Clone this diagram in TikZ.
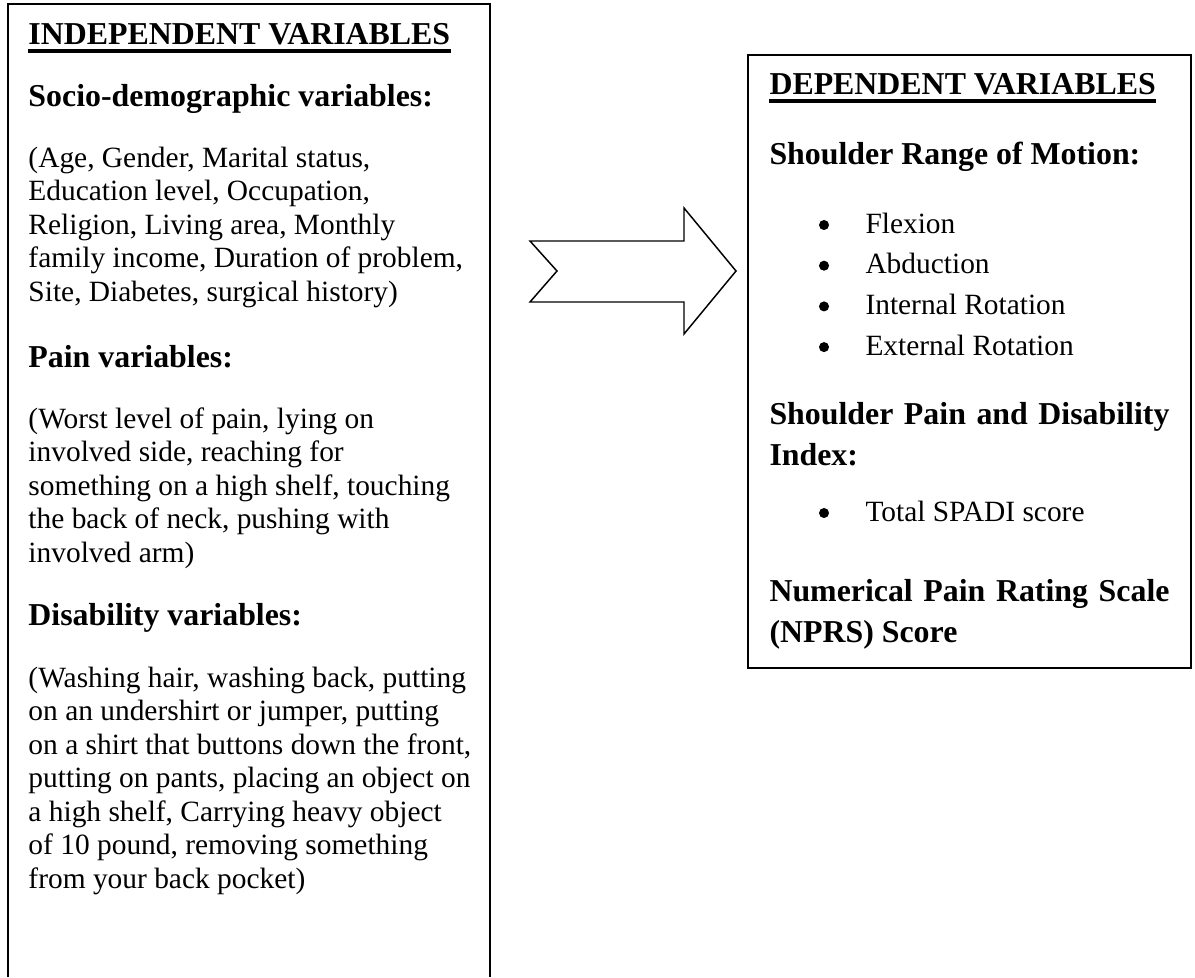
\documentclass[tikz,border=0pt]{standalone}
\usepackage{fontspec}
\setmainfont{Liberation Serif}
\usetikzlibrary{calc}

\tikzset{
  frame/.style={line width=0.85pt},
  ttl/.style={anchor=base west,inner sep=0pt,font=\fontsize{13}{15}\selectfont\bfseries},
  hd/.style={anchor=base west,inner sep=0pt,font=\fontsize{13}{15}\selectfont\bfseries},
  txt/.style={anchor=base west,inner sep=0pt,font=\fontsize{12}{13.7}\selectfont},
  dot/.style={circle,fill,inner sep=0pt,minimum size=4.1pt},
}

\begin{document}
\begin{tikzpicture}[x=0.408pt,y=-0.408pt]
  \useasboundingbox (0,0) rectangle (1195,977);
  % left box, runs off the bottom
  \draw[frame] (8,977) -- (8,4) -- (490,4) -- (490,977);
  \node[ttl] (indep) at (28,45) {INDEPENDENT VARIABLES};
  \draw[line width=1.6pt] ($(indep.base west)+(0,6)$) -- ($(indep.base east)+(0,6)$);
  \node[hd] (socio) at (28,107) {Socio-demographic variables:};
  \foreach \t [count=\i] in {{(Age, Gender, Marital status,},{Education level, Occupation,},
      {Religion, Living area, Monthly},{family income, Duration of problem,},
      {Site, Diabetes, surgical history)}}
    \node[txt] (soc\i) at (28,{167+33.5*(\i-1)}) {\t};
  \node[hd] (pain) at (28,367) {Pain variables:};
  \foreach \t [count=\i] in {{(Worst level of pain, lying on},{involved side, reaching for},
      {something on a high shelf, touching},{the back of neck, pushing with},
      {involved arm)}}
    \node[txt] (pn\i) at (28,{428+33.5*(\i-1)}) {\t};
  \node[hd] (disab) at (28,625) {Disability variables:};
  \foreach \t [count=\i] in {{(Washing hair, washing back, putting},{on an undershirt or jumper, putting},
      {on a shirt that buttons down the front,},{putting on pants, placing an object on},
      {a high shelf, Carrying heavy object},{of 10 pound, removing something},
      {from your back pocket)}}
    \node[txt] (ds\i) at (28,{687+33.5*(\i-1)}) {\t};

  % arrow
  \draw[line width=0.6pt] (530,241) -- (684,241) -- (684,208) -- (736,271)
    -- (684,334) -- (684,302) -- (530,302) -- (557,271) -- cycle;

  % right box
  \draw[frame] (748,55) rectangle (1191,668);
  \node[ttl] (dep) at (769,95) {DEPENDENT VARIABLES};
  \draw[line width=1.6pt] ($(dep.base west)+(0,6)$) -- ($(dep.base east)+(0,6)$);
  \node[hd] (rom) at (769,164) {Shoulder Range of Motion:};
  \foreach \t [count=\i] in {Flexion,Abduction,Internal Rotation,External Rotation}{
    \node[txt] (rom\i) at (865,{233+40.7*(\i-1)}) {\t};
    \node[dot] (bl\i) at (824,{225+40.7*(\i-1)}) {};}
  \node[hd] (spd) at (769,424) {\makebox[163.2pt][s]{Shoulder Pain and Disability}};
  \node[hd] (idx) at (769,465) {Index:};
  \node[txt] (spadi) at (865,521) {Total SPADI score};
  \node[dot] (bl5) at (824,513) {};
  \node[hd] (nprs) at (769,601) {\makebox[163.2pt][s]{Numerical Pain Rating Scale}};
  \node[hd] (nprs2) at (769,642) {(NPRS) Score};
\end{tikzpicture}
\end{document}
